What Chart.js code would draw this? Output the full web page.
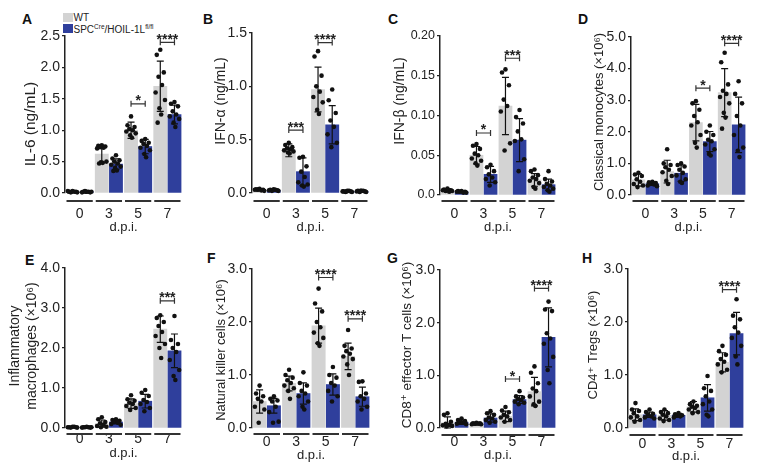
<!DOCTYPE html>
<html>
<head>
<meta charset="utf-8">
<script src="https://cdn.jsdelivr.net/npm/chart.js@4.4.1/dist/chart.umd.min.js"></script>
<style>
  body { margin: 0; background: #fff; }
  #fig { position: relative; width: 762px; height: 472px; overflow: hidden; font-family: 'Liberation Sans', Arial, 'DejaVu Sans', sans-serif; color: #222; }
  #fig canvas { position: absolute; }
  .letter { position: absolute; font-weight: bold; font-size: 14px; line-height: 1; color: #111; }
  .leg { position: absolute; font-size: 10px; line-height: 1; white-space: nowrap; }
  .leg sup { font-size: 6.5px; vertical-align: baseline; position: relative; top: -4px; }
  .sw { position: absolute; width: 10px; height: 9px; }
</style>
</head>
<body>
<div id="fig">
  <div class="sw" style="left:63px;top:13px;background:#d3d3d3"></div>
  <div class="leg" style="left:73.5px;top:13px">WT</div>
  <div class="sw" style="left:63px;top:24px;background:#2f3f9c"></div>
  <div class="leg" style="left:73.5px;top:24.5px">SPC<sup>Cre</sup>/HOIL-1L<sup>fl/fl</sup></div>
</div>
<script>
const FONT = "'Liberation Sans', Arial, 'DejaVu Sans', sans-serif";
Chart.defaults.font.family = FONT;
Chart.defaults.color = '#222';

// shared
const days = ["0", "3", "5", "7"];
const groupNames = ["WT", "SPC-Cre/HOIL-1L fl/fl"];
const letters = ["A", "B", "C", "D", "E", "F", "G", "H"];

// A  IL-6
const il6Title = ["IL-6 (ng/mL)"];
const il6Ticks = ["0.0", "0.5", "1.0", "1.5", "2.0", "2.5"];
const il6WtMean = [0.02, 0.62, 1.00, 1.70];
const il6WtSd = [0.01, 0.14, 0.13, 0.40];
const il6KoMean = [0.02, 0.46, 0.74, 1.25];
const il6KoSd = [0.01, 0.085, 0.115, 0.15];
const il6WtPts = [
  [0.03, 0.02, 0.02, 0.01, 0.02, 0.03, 0.01, 0.02],
  [0.76, 0.75, 0.74, 0.73, 0.72, 0.71, 0.50, 0.49, 0.48, 0.47],
  [1.22, 1.08, 1.05, 1.02, 1.00, 0.98, 0.95, 0.92, 0.88],
  [2.28, 2.20, 1.92, 1.85, 1.72, 1.60, 1.48, 1.35, 1.25, 1.12]];
const il6KoPts = [
  [0.02, 0.02, 0.01, 0.03, 0.02, 0.01, 0.02, 0.02],
  [0.60, 0.55, 0.52, 0.50, 0.47, 0.45, 0.42, 0.40, 0.36, 0.35],
  [0.86, 0.83, 0.80, 0.78, 0.75, 0.72, 0.68, 0.62, 0.57],
  [1.45, 1.42, 1.38, 1.30, 1.25, 1.22, 1.18, 1.12, 1.05]];
const il6Sig = [[2, 1.42, "*"], [3, 2.40, "****"]];

// B  IFN-alpha
const ifnaTitle = ["IFN-\u03b1 (ng/mL)"];
const ifnaTicks = ["0.0", "0.5", "1.0", "1.5"];
const ifnaWtMean = [0.03, 0.40, 0.97, 0.015];
const ifnaWtSd = [0.01, 0.06, 0.21, 0.005];
const ifnaKoMean = [0.025, 0.20, 0.64, 0.015];
const ifnaKoSd = [0.01, 0.13, 0.18, 0.005];
const ifnaWtPts = [
  [0.04, 0.035, 0.03, 0.03, 0.025, 0.03, 0.02, 0.035],
  [0.47, 0.45, 0.43, 0.42, 0.41, 0.40, 0.39, 0.38, 0.37],
  [1.33, 1.28, 1.10, 1.00, 0.95, 0.90, 0.85, 0.78, 0.74],
  [0.02, 0.015, 0.015, 0.01, 0.02, 0.015, 0.01, 0.015]];
const ifnaKoPts = [
  [0.035, 0.03, 0.025, 0.02, 0.03, 0.025, 0.02],
  [0.34, 0.33, 0.25, 0.20, 0.15, 0.10, 0.08, 0.07, 0.06],
  [0.97, 0.87, 0.75, 0.68, 0.62, 0.55, 0.47, 0.43],
  [0.02, 0.02, 0.015, 0.01, 0.02, 0.015, 0.01, 0.02]];
const ifnaSig = [[1, 0.59, "***"], [2, 1.41, "****"]];

// C  IFN-beta
const ifnbTitle = ["IFN-\u03b2 (ng/mL)"];
const ifnbTicks = ["0.0", "0.05", "0.10", "0.15", "0.20"];
const ifnbWtMean = [0.006, 0.050, 0.112, 0.019];
const ifnbWtSd = [0.002, 0.011, 0.036, 0.008];
const ifnbKoMean = [0.004, 0.026, 0.069, 0.013];
const ifnbKoSd = [0.001, 0.010, 0.027, 0.007];
const ifnbWtPts = [
  [0.008, 0.007, 0.006, 0.005, 0.004, 0.006, 0.005],
  [0.064, 0.062, 0.058, 0.052, 0.050, 0.046, 0.043, 0.040, 0.037],
  [0.158, 0.154, 0.138, 0.120, 0.112, 0.105, 0.065, 0.056],
  [0.032, 0.030, 0.025, 0.022, 0.020, 0.018, 0.015, 0.010, 0.008]];
const ifnbKoPts = [
  [0.005, 0.005, 0.004, 0.004, 0.003, 0.004, 0.003],
  [0.038, 0.035, 0.030, 0.026, 0.022, 0.020, 0.016, 0.012],
  [0.107, 0.098, 0.090, 0.080, 0.070, 0.068, 0.045, 0.030],
  [0.030, 0.020, 0.017, 0.014, 0.012, 0.010, 0.008, 0.006, 0.004]];
const ifnbSig = [[1, 0.078, "*"], [2, 0.172, "***"]];

// D  classical monocytes
const monoTitle = ["Classical monocytes (\u00d710\u2076)"];
const monoTicks = ["0.0", "1.0", "2.0", "3.0", "4.0", "5.0"];
const monoWtMean = [0.48, 0.74, 2.29, 3.24];
const monoWtSd = [0.20, 0.36, 0.58, 0.76];
const monoKoMean = [0.36, 0.69, 1.69, 2.22];
const monoKoSd = [0.06, 0.26, 0.32, 0.88];
const monoWtPts = [
  [0.70, 0.65, 0.60, 0.50, 0.42, 0.35, 0.30, 0.25],
  [1.45, 1.00, 0.95, 0.88, 0.80, 0.72, 0.60, 0.45, 0.35],
  [2.97, 2.90, 2.70, 2.50, 2.30, 2.20, 1.90, 1.65, 1.50],
  [4.50, 4.20, 3.50, 3.30, 3.20, 3.10, 2.90, 2.60, 2.45, 2.10]];
const monoKoPts = [
  [0.42, 0.40, 0.38, 0.35, 0.33, 0.30, 0.28],
  [1.00, 0.95, 0.90, 0.80, 0.70, 0.62, 0.50, 0.42, 0.38],
  [2.20, 2.00, 1.90, 1.75, 1.70, 1.60, 1.45, 1.30, 1.25],
  [3.60, 3.20, 2.90, 2.50, 2.20, 1.90, 1.50, 1.40, 1.20]];
const monoSig = [[2, 3.38, "*"], [3, 4.80, "****"]];

// E  inflammatory macrophages
const macTitle = ["Inflammatory", "macrophages (\u00d710\u2076)"];
const macTicks = ["0.0", "1.0", "2.0", "3.0", "4.0"];
const macWtMean = [0.02, 0.11, 0.61, 2.47];
const macWtSd = [0.01, 0.09, 0.12, 0.33];
const macKoMean = [0.02, 0.15, 0.67, 1.93];
const macKoSd = [0.01, 0.05, 0.17, 0.42];
const macWtPts = [
  [0.03, 0.02, 0.02, 0.01, 0.03, 0.02, 0.01],
  [0.27, 0.22, 0.15, 0.12, 0.08, 0.05, 0.03, 0.02],
  [0.82, 0.72, 0.68, 0.63, 0.60, 0.55, 0.50, 0.45],
  [2.82, 2.75, 2.65, 2.55, 2.40, 2.30, 2.10, 2.00, 1.75]];
const macKoPts = [
  [0.03, 0.02, 0.01, 0.02, 0.02, 0.01, 0.02],
  [0.22, 0.20, 0.18, 0.15, 0.13, 0.10, 0.08],
  [0.95, 0.88, 0.80, 0.70, 0.65, 0.60, 0.50, 0.42],
  [2.80, 2.20, 2.10, 2.00, 1.90, 1.70, 1.45, 1.30, 1.20]];
const macSig = [[3, 3.18, "***"]];

// F  natural killer cells
const nkTitle = ["Natural killer cells (\u00d710\u2076)"];
const nkTicks = ["0.0", "1.0", "2.0", "3.0"];
const nkWtMean = [0.50, 0.84, 1.93, 1.35];
const nkWtSd = [0.22, 0.14, 0.33, 0.25];
const nkKoMean = [0.42, 0.65, 0.82, 0.59];
const nkKoSd = [0.14, 0.20, 0.20, 0.18];
const nkWtPts = [
  [0.80, 0.65, 0.60, 0.55, 0.50, 0.40, 0.35, 0.10],
  [1.10, 1.00, 0.95, 0.90, 0.85, 0.80, 0.75, 0.70, 0.55],
  [2.63, 2.35, 2.20, 2.00, 1.90, 1.80, 1.70, 1.60, 1.55],
  [1.85, 1.55, 1.50, 1.45, 1.40, 1.35, 1.30, 1.20, 1.00]];
const nkKoPts = [
  [0.60, 0.55, 0.52, 0.50, 0.40, 0.30, 0.12, 0.10],
  [1.05, 0.85, 0.80, 0.70, 0.65, 0.60, 0.50, 0.40, 0.35],
  [1.15, 1.00, 0.95, 0.85, 0.80, 0.70, 0.60, 0.50],
  [0.88, 0.87, 0.65, 0.60, 0.55, 0.50, 0.40, 0.35]];
const nkSig = [[2, 2.84, "****"], [3, 2.06, "****"]];

// G  CD8+ effector T cells
const cd8Title = ["CD8\u207a effector T cells (\u00d710\u2076)"];
const cd8Ticks = ["0.0", "1.0", "2.0", "3.0"];
const cd8WtMean = [0.10, 0.08, 0.22, 0.69];
const cd8WtSd = [0.11, 0.015, 0.10, 0.27];
const cd8KoMean = [0.11, 0.19, 0.54, 1.72];
const cd8KoSd = [0.04, 0.08, 0.075, 0.56];
const cd8WtPts = [
  [0.28, 0.25, 0.12, 0.08, 0.06, 0.05, 0.04, 0.03],
  [0.10, 0.09, 0.09, 0.08, 0.08, 0.07, 0.07, 0.08],
  [0.40, 0.33, 0.30, 0.25, 0.22, 0.20, 0.15, 0.12],
  [1.17, 1.05, 0.85, 0.75, 0.70, 0.60, 0.50, 0.45, 0.42]];
const cd8KoPts = [
  [0.18, 0.15, 0.13, 0.11, 0.10, 0.08, 0.07],
  [0.32, 0.28, 0.25, 0.20, 0.18, 0.15, 0.12, 0.10],
  [0.70, 0.60, 0.58, 0.55, 0.53, 0.50, 0.48, 0.45],
  [2.40, 2.25, 2.22, 1.80, 1.70, 1.60, 1.35, 1.10, 0.85]];
const cd8Sig = [[2, 0.93, "*"], [3, 2.65, "****"]];

// H  CD4+ Tregs
const tregTitle = ["CD4\u207a Tregs (\u00d710\u2076)"];
const tregTicks = ["0.0", "1.0", "2.0", "3.0"];
const tregWtMean = [0.25, 0.24, 0.40, 1.24];
const tregWtSd = [0.11, 0.09, 0.10, 0.18];
const tregKoMean = [0.25, 0.24, 0.57, 1.78];
const tregKoSd = [0.05, 0.035, 0.25, 0.40];
const tregWtPts = [
  [0.47, 0.35, 0.32, 0.28, 0.22, 0.20, 0.15, 0.12],
  [0.35, 0.30, 0.28, 0.25, 0.22, 0.18, 0.15, 0.13],
  [0.50, 0.45, 0.42, 0.40, 0.38, 0.35, 0.30, 0.28],
  [1.55, 1.45, 1.38, 1.30, 1.25, 1.20, 1.10, 1.05]];
const tregKoPts = [
  [0.35, 0.30, 0.27, 0.25, 0.22, 0.20, 0.18],
  [0.28, 0.26, 0.24, 0.23, 0.22, 0.20],
  [0.98, 0.75, 0.70, 0.60, 0.50, 0.45, 0.35, 0.25, 0.22],
  [2.43, 2.12, 2.05, 1.90, 1.80, 1.70, 1.55, 1.35, 1.20]];
const tregSig = [[3, 2.61, "****"]];

const panels = [
  {title: il6Title, ticks: il6Ticks, wt: il6WtMean, wtSd: il6WtSd, ko: il6KoMean, koSd: il6KoSd, wtPts: il6WtPts, koPts: il6KoPts, sig: il6Sig},
  {title: ifnaTitle, ticks: ifnaTicks, wt: ifnaWtMean, wtSd: ifnaWtSd, ko: ifnaKoMean, koSd: ifnaKoSd, wtPts: ifnaWtPts, koPts: ifnaKoPts, sig: ifnaSig},
  {title: ifnbTitle, ticks: ifnbTicks, wt: ifnbWtMean, wtSd: ifnbWtSd, ko: ifnbKoMean, koSd: ifnbKoSd, wtPts: ifnbWtPts, koPts: ifnbKoPts, sig: ifnbSig},
  {title: monoTitle, ticks: monoTicks, wt: monoWtMean, wtSd: monoWtSd, ko: monoKoMean, koSd: monoKoSd, wtPts: monoWtPts, koPts: monoKoPts, sig: monoSig},
  {title: macTitle, ticks: macTicks, wt: macWtMean, wtSd: macWtSd, ko: macKoMean, koSd: macKoSd, wtPts: macWtPts, koPts: macKoPts, sig: macSig},
  {title: nkTitle, ticks: nkTicks, wt: nkWtMean, wtSd: nkWtSd, ko: nkKoMean, koSd: nkKoSd, wtPts: nkWtPts, koPts: nkKoPts, sig: nkSig},
  {title: cd8Title, ticks: cd8Ticks, wt: cd8WtMean, wtSd: cd8WtSd, ko: cd8KoMean, koSd: cd8KoSd, wtPts: cd8WtPts, koPts: cd8KoPts, sig: cd8Sig},
  {title: tregTitle, ticks: tregTicks, wt: tregWtMean, wtSd: tregWtSd, ko: tregKoMean, koSd: tregKoSd, wtPts: tregWtPts, koPts: tregKoPts, sig: tregSig},
];

// page layout (pixels): cell box, plot box [left,right,top,bottom], label offsets
const layout = [
  {cell: [0, 0, 190, 236],     plot: [65, 182, 36, 193],   tickPad: 13, line: 8, dpiPad: 1,  letter: [22, 12],  title: [31, 124], tSize: 15.5, yFont: 14},
  {cell: [190, 0, 190, 236],   plot: [252, 369, 33, 193],  tickPad: 13, line: 8, dpiPad: 1,  letter: [203, 12], title: [221, 101], tSize: 14, yFont: 14},
  {cell: [380, 0, 190, 236],   plot: [440, 556, 36, 195],  tickPad: 11, line: 6, dpiPad: 1,  letter: [388, 12], title: [400, 101], tSize: 14, yFont: 12.5},
  {cell: [570, 0, 192, 236],   plot: [631, 746, 37, 195],  tickPad: 11, line: 6, dpiPad: 1,  letter: [578, 12], title: [599, 112], tSize: 13, yFont: 14},
  {cell: [0, 236, 190, 236],   plot: [65, 182, 268, 428],  tickPad: 3,  line: 6, dpiPad: 11, letter: [25, 253], title: [24, 346], tSize: 14, yFont: 14},
  {cell: [190, 236, 190, 236], plot: [252, 370, 269, 428], tickPad: 6,  line: 6, dpiPad: 9,  letter: [207, 251], title: [221, 350], tSize: 13, yFont: 14},
  {cell: [380, 236, 190, 236], plot: [440, 556, 270, 428], tickPad: 6,  line: 7, dpiPad: 9,  letter: [387, 251], title: [407, 345], tSize: 13.5, yFont: 14},
  {cell: [570, 236, 192, 236], plot: [628, 744, 269, 428], tickPad: 8,  line: 7, dpiPad: 8,  letter: [582, 251], title: [593, 345], tSize: 13, yFont: 14},
];

const GRAY = '#d3d3d3', BLUE = '#2f3f9c';
const CAT_PCT = 0.97, BAR_PCT = 0.93;
const SHIFT = CAT_PCT / 4;
const jitter = [0, -0.12, 0.12, -0.06, 0.06, -0.16, 0.16, -0.03, 0.03, -0.09, 0.09];

function bars(means, side) {
  return means.map((v, i) => ({x: i + side * SHIFT, y: v}));
}

function dots(pts, side) {
  const out = [];
  pts.forEach((vals, i) => vals.forEach((v, j) => {
    out.push({x: i + side * SHIFT + jitter[j % jitter.length], y: v});
  }));
  return out;
}

function extras(p, L) {
  const ox = L.cell[0], oy = L.cell[1];
  return {
    id: 'extras',
    afterDatasetsDraw(chart) {
      const {ctx, scales: {y}} = chart;
      ctx.save();
      ctx.strokeStyle = '#111';
      ctx.lineWidth = 1.2;
      [[p.wt, p.wtSd], [p.ko, p.koSd]].forEach(([m, s], di) => {
        chart.getDatasetMeta(di).data.forEach((bar, i) => {
          const cx = bar.x;
          const yt = y.getPixelForValue(m[i] + s[i]);
          const yb = y.getPixelForValue(Math.max(m[i] - s[i], 0));
          ctx.beginPath();
          ctx.moveTo(cx, yt); ctx.lineTo(cx, yb);
          ctx.moveTo(cx - 3.5, yt); ctx.lineTo(cx + 3.5, yt);
          ctx.moveTo(cx - 3.5, yb); ctx.lineTo(cx + 3.5, yb);
          ctx.stroke();
        });
      });
      // significance brackets
      ctx.strokeStyle = '#333';
      ctx.fillStyle = '#222';
      ctx.font = 'bold 14px ' + FONT;
      ctx.textAlign = 'center';
      ctx.textBaseline = 'alphabetic';
      p.sig.forEach(([g, v, label]) => {
        const x1 = chart.getDatasetMeta(0).data[g].x;
        const x2 = chart.getDatasetMeta(1).data[g].x;
        const yy = y.getPixelForValue(v);
        ctx.beginPath();
        ctx.moveTo(x1, yy); ctx.lineTo(x2, yy);
        ctx.moveTo(x1, yy - 3); ctx.lineTo(x1, yy + 3);
        ctx.moveTo(x2, yy - 3); ctx.lineTo(x2, yy + 3);
        ctx.stroke();
        ctx.fillText(label, (x1 + x2) / 2, yy + 1.5);
      });
      ctx.restore();
    },
    afterDraw(chart) {
      const {ctx, chartArea, scales: {x}} = chart;
      ctx.save();
      // group underlines
      const cw = (chartArea.right - chartArea.left) / days.length;
      ctx.strokeStyle = '#333';
      ctx.lineWidth = 2;
      days.forEach((d, i) => {
        const c = x.getPixelForValue(i);
        ctx.beginPath();
        ctx.moveTo(c - cw / 2 + 1.5, chartArea.bottom + L.line);
        ctx.lineTo(c + cw / 2 - 1.5, chartArea.bottom + L.line);
        ctx.stroke();
      });
      // y axis title
      ctx.fillStyle = '#222';
      ctx.font = L.tSize + 'px ' + FONT;
      ctx.textAlign = 'center';
      ctx.textBaseline = 'middle';
      ctx.translate(L.title[0] - ox, L.title[1] - oy);
      ctx.rotate(-Math.PI / 2);
      const n = p.title.length, gap = 17;
      p.title.forEach((t, k) => ctx.fillText(t, 0, (k - (n - 1) / 2) * gap));
      ctx.restore();
    }
  };
}

const fig = document.getElementById('fig');
panels.forEach((p, idx) => {
  const L = layout[idx];
  const [cx, cy, cw, ch] = L.cell;
  const [pl, pr, pt, pb] = L.plot;
  const barPx = (pr - pl) / days.length * CAT_PCT / 2 * BAR_PCT;

  const letter = document.createElement('div');
  letter.className = 'letter';
  letter.textContent = letters[idx];
  letter.style.left = L.letter[0] + 'px';
  letter.style.top = L.letter[1] + 'px';
  fig.appendChild(letter);

  const cv = document.createElement('canvas');
  cv.width = cw; cv.height = ch;
  cv.style.left = cx + 'px'; cv.style.top = cy + 'px';
  cv.style.width = cw + 'px'; cv.style.height = ch + 'px';
  fig.appendChild(cv);

  const tickVals = p.ticks.map(Number);
  const barCommon = {grouped: false, barThickness: barPx, order: 1};
  const dotCommon = {type: 'scatter', backgroundColor: '#111', borderWidth: 0, pointRadius: 2.3, clip: false, order: 0};

  new Chart(cv, {
    type: 'bar',
    data: {
      datasets: [
        {...barCommon, label: groupNames[0], data: bars(p.wt, -1), backgroundColor: GRAY},
        {...barCommon, label: groupNames[1], data: bars(p.ko, 1), backgroundColor: BLUE},
        {...dotCommon, label: groupNames[0] + ' mice', data: dots(p.wtPts, -1)},
        {...dotCommon, label: groupNames[1] + ' mice', data: dots(p.koPts, 1)},
      ]
    },
    options: {
      responsive: false,
      animation: false,
      devicePixelRatio: 1,
      layout: {padding: {left: 0, right: cx + cw - pr, top: pt - cy, bottom: 0}},
      plugins: {legend: {display: false}, tooltip: {enabled: false}},
      scales: {
        x: {
          type: 'linear',
          offset: false,
          min: -0.5,
          max: 3.5,
          afterBuildTicks: s => { s.ticks = days.map((d, i) => ({value: i})); },
          grid: {display: false, drawTicks: false, tickLength: 0},
          border: {display: false},
          ticks: {font: {size: 14}, color: '#222', padding: L.tickPad, maxRotation: 0, autoSkip: false, callback: (v, i) => days[i]},
          title: {display: true, text: 'd.p.i.', font: {size: 13}, color: '#222', padding: {top: 0, bottom: L.dpiPad}},
          afterFit: s => { s.height = cy + ch - pb; }
        },
        y: {
          min: 0,
          max: tickVals[tickVals.length - 1],
          afterBuildTicks: s => { s.ticks = tickVals.map(v => ({value: v})); },
          ticks: {font: {size: L.yFont}, color: '#222', padding: 2, callback: (v, i) => p.ticks[i]},
          grid: {drawOnChartArea: false, drawTicks: true, tickLength: 3, color: '#222', lineWidth: 1.2},
          border: {display: true, color: '#222', width: 1.5},
          afterFit: s => { s.width = pl - cx; }
        }
      }
    },
    plugins: [extras(p, L)]
  });
});
</script>
</body>
</html>
